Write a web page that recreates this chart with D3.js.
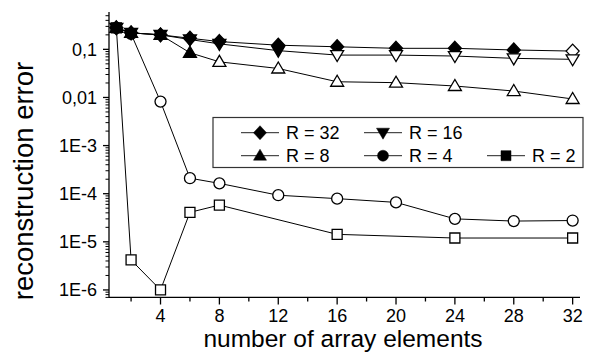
<!DOCTYPE html>
<html>
<head>
<meta charset="utf-8">
<script src="https://cdn.jsdelivr.net/npm/d3@7"></script>
<style>
  body { margin: 0; background: #fff; }
  svg { display: block; font-family: Arial, "Liberation Sans", sans-serif; }
</style>
</head>
<body>
<svg id="chart" width="590" height="354"></svg>
<script>
// values
const xs = [1, 2, 4, 6, 8, 12, 16, 20, 24, 28, 32];
const xs2 = [1, 2, 4, 6, 8, 16, 24, 32];
const err32 = [0.28, 0.22, 0.2, 0.17, 0.145, 0.122, 0.113, 0.105, 0.105, 0.097, 0.092];
const err16 = [0.28, 0.22, 0.2, 0.16, 0.13, 0.094, 0.076, 0.076, 0.0726, 0.065, 0.062];
const err8  = [0.28, 0.22, 0.2, 0.085, 0.055, 0.040, 0.0212, 0.0203, 0.0173, 0.0136, 0.0093];
const err4  = [0.28, 0.21, 0.0082, 2.1e-4, 1.64e-4, 9.3e-5, 7.9e-5, 6.6e-5, 3.0e-5, 2.7e-5, 2.77e-5];
const err2  = [0.28, 4.2e-6, 1e-6, 4.1e-5, 5.8e-5, 1.43e-5, 1.2e-5, 1.2e-5];
const xTicks = [4, 8, 12, 16, 20, 24, 28, 32];
const yTicks = [0.1, 0.01, 1e-3, 1e-4, 1e-5, 1e-6];
const yTickLabels = ['0,1', '0,01', '1E-3', '1E-4', '1E-5', '1E-6'];

const series = [
  {r: 32, shape: 'diamond', xs: xs,  ys: err32},
  {r: 16, shape: 'down',    xs: xs,  ys: err16},
  {r: 8,  shape: 'up',      xs: xs,  ys: err8},
  {r: 4,  shape: 'circle',  xs: xs,  ys: err4},
  {r: 2,  shape: 'square',  xs: xs2, ys: err2}
];

const svg = d3.select('#chart');
const x = d3.scaleLinear().domain([0.5, 32.5]).range([109, 580]);
const y = d3.scaleLog().domain([7e-7, 0.6]).range([297.4, 11.9]);

// marker shapes
function marker(shape) {
  switch (shape) {
    case 'diamond': return 'M0,-7L6.5,0L0,7L-6.5,0Z';
    case 'down':    return 'M-6.5,-4.5L6.5,-4.5L0,6.5Z';
    case 'up':      return 'M-6.5,4.5L6.5,4.5L0,-6.5Z';
    case 'square':  return 'M-5,-5H5V5H-5Z';
    default:        return d3.arc()({innerRadius: 0, outerRadius: 5.5, startAngle: 0, endAngle: 2 * Math.PI});
  }
}

// axes
const minor = [];
for (let e = -7; e <= -1; e++)
  for (let m = 2; m <= 9; m++) {
    const v = m * Math.pow(10, e);
    if (v >= 7e-7 && v <= 0.6) minor.push(v);
  }

const gy = svg.append('g');
gy.append('line').attr('x1', 109).attr('x2', 109).attr('y1', y(0.6)).attr('y2', y(7e-7))
  .attr('stroke', '#000').attr('stroke-width', 1.3);
gy.selectAll('line.minor').data(minor).enter().append('line').attr('class', 'minor')
  .attr('x1', 105.5).attr('x2', 109).attr('y1', d => y(d)).attr('y2', d => y(d))
  .attr('stroke', '#000').attr('stroke-width', 1);
gy.selectAll('line.major').data(yTicks).enter().append('line').attr('class', 'major')
  .attr('x1', 103).attr('x2', 109).attr('y1', d => y(d)).attr('y2', d => y(d))
  .attr('stroke', '#000').attr('stroke-width', 1.3);
gy.selectAll('text').data(yTicks).enter().append('text')
  .attr('x', 97).attr('y', d => y(d)).attr('dy', '0.35em')
  .attr('text-anchor', 'end').attr('font-size', 18)
  .text((d, i) => yTickLabels[i]);

const gx = svg.append('g');
gx.append('line').attr('x1', 109).attr('x2', 580).attr('y1', 297.4).attr('y2', 297.4)
  .attr('stroke', '#000').attr('stroke-width', 1.3);
gx.selectAll('line.minor').data(d3.range(2, 33, 4)).enter().append('line').attr('class', 'minor')
  .attr('x1', d => x(d)).attr('x2', d => x(d)).attr('y1', 297.4).attr('y2', 301.5)
  .attr('stroke', '#000').attr('stroke-width', 1.3);
gx.selectAll('line.major').data(xTicks).enter().append('line').attr('class', 'major')
  .attr('x1', d => x(d)).attr('x2', d => x(d)).attr('y1', 297.4).attr('y2', 304.5)
  .attr('stroke', '#000').attr('stroke-width', 1.3);
gx.selectAll('text').data(xTicks).enter().append('text')
  .attr('x', d => x(d)).attr('y', 322)
  .attr('text-anchor', 'middle').attr('font-size', 18)
  .text(d => d);

svg.append('text').attr('x', 343).attr('y', 347).attr('text-anchor', 'middle')
  .attr('font-size', 24.5).text('number of array elements');
svg.append('text').attr('transform', 'translate(33,181) rotate(-90)').attr('text-anchor', 'middle')
  .attr('font-size', 27.5).text('reconstruction error');

// series
const line = d3.line().x(d => x(d[0])).y(d => y(d[1]));
series.forEach(s => {
  const pts = s.xs.map((v, i) => [v, s.ys[i]]);
  const g = svg.append('g');
  g.append('path').datum(pts).attr('d', line)
    .attr('fill', 'none').attr('stroke', '#000').attr('stroke-width', 1);
  g.selectAll('path.m').data(pts).enter().append('path').attr('class', 'm')
    .attr('transform', d => `translate(${x(d[0])},${y(d[1])})`)
    .attr('d', marker(s.shape))
    .attr('fill', d => d[0] < s.r ? '#000' : '#fff')   // filled while elements < R
    .attr('stroke', '#000').attr('stroke-width', 1.3);
});

// legend
const lg = svg.append('g');
lg.append('rect').attr('x', 213).attr('y', 117.5).attr('width', 370).attr('height', 50)
  .attr('fill', '#fff').attr('stroke', '#333').attr('stroke-width', 1.2);
series.forEach((s, i) => {
  const col = i < 2 ? i : i - 2, row = i < 2 ? 0 : 1;
  const cx = 260 + col * 123, cy = row ? 155.7 : 132.7;
  lg.append('line').attr('x1', cx - 19).attr('x2', cx + 19).attr('y1', cy).attr('y2', cy)
    .attr('stroke', '#222').attr('stroke-width', 1);
  lg.append('path').attr('transform', `translate(${cx},${cy})`)
    .attr('d', marker(s.shape)).attr('fill', '#000').attr('stroke', '#000').attr('stroke-width', 0.5);
  lg.append('text').attr('x', cx + 26).attr('y', cy).attr('dy', '0.36em')
    .attr('font-size', 18).text('R = ' + s.r);
});
</script>
</body>
</html>
